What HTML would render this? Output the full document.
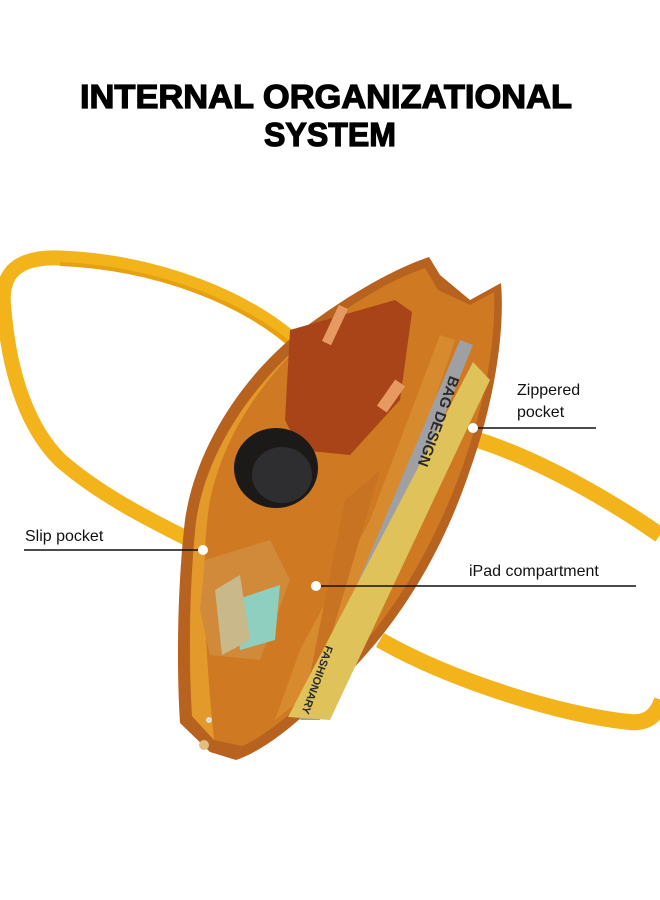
<!DOCTYPE html>
<html><head><style>
html,body{margin:0;padding:0;background:#fff;}
svg{display:block;}
text{font-family:"Liberation Sans",sans-serif;}
</style></head><body>
<svg width="660" height="900" viewBox="0 0 660 900" xmlns="http://www.w3.org/2000/svg">
<rect width="660" height="900" fill="#fff"/>
<text x="326" y="108" text-anchor="middle" font-size="33" font-weight="bold" fill="#000" stroke="#000" stroke-width="1.2" textLength="492" lengthAdjust="spacingAndGlyphs">INTERNAL ORGANIZATIONAL</text>
<text x="330" y="146" text-anchor="middle" font-size="33" font-weight="bold" fill="#000" stroke="#000" stroke-width="1.2" textLength="132" lengthAdjust="spacingAndGlyphs">SYSTEM</text>

<!-- left strap -->
<path d="M298,345 C250,300 160,262 60,258 C10,256 0,280 4,310 C10,380 30,430 60,460 C100,495 150,520 190,540" fill="none" stroke="#f2b41a" stroke-width="15"/>
<path d="M298,345 C250,300 160,262 60,258" fill="none" stroke="#e6a012" stroke-width="4" transform="translate(0,6)"/>
<!-- right strap -->
<path d="M478,440 C540,460 610,500 660,535" fill="none" stroke="#f2b41a" stroke-width="16"/>
<path d="M380,640 C450,680 560,715 630,722 C650,724 658,712 662,700" fill="none" stroke="#f2b41a" stroke-width="16"/>

<!-- bag outer -->
<path d="M429,257 L440,275 L470,300 L501,283 C505,330 495,400 470,470 C440,560 390,640 320,700 C290,730 260,752 236,760 L210,752 L180,723 C176,660 178,580 185,520 C195,450 240,380 295,335 C340,300 390,270 429,257 Z" fill="#b8621f"/>
<!-- interior lining -->
<path d="M425,268 L438,290 L470,305 L494,292 C496,340 486,400 462,468 C432,552 385,632 318,690 C288,716 262,738 242,746 L214,740 L192,716 C188,650 190,580 196,522 C206,452 250,388 300,345 C340,310 385,282 425,268 Z" fill="#cf7a22"/>
<path d="M300,345 C250,390 206,452 196,522 C190,580 188,650 192,716 L214,740 C205,650 200,560 210,500 C225,430 265,380 300,345 Z" fill="#e49a2a"/>
<!-- pouch -->
<path d="M290,330 L395,300 L412,312 L400,400 L350,455 L300,450 L285,420 Z" fill="#a84418"/>
<rect x="385" y="380" width="12" height="32" fill="#e69a62" transform="rotate(35 391 396)"/>
<rect x="330" y="305" width="10" height="40" fill="#e69a62" transform="rotate(25 335 325)"/>
<!-- black circle -->
<ellipse cx="276" cy="468" rx="42" ry="40" fill="#1c1a18"/>
<ellipse cx="282" cy="475" rx="30" ry="28" fill="#2e2e30"/>
<!-- dividers -->
<path d="M440,335 L455,340 L380,560 L300,700 L275,720 L300,650 L370,520 Z" fill="#d88a2e"/>
<path d="M345,500 L380,470 L330,640 L305,700 Z" fill="#c87322"/>
<!-- tablet -->
<path d="M460,340 L473,345 L320,720 L300,720 Z" fill="#9ea0a4"/>
<!-- book -->
<path d="M473,362 L490,380 L330,720 L288,717 Z" fill="#e0c25a"/>
<text x="0" y="0" font-size="15" font-weight="bold" fill="#2a2a2a" transform="translate(450,375) rotate(110)">BAG DESIGN</text>
<text x="0" y="0" font-size="11" font-weight="bold" fill="#2a2a2a" transform="translate(326,645) rotate(110)">FASHIONARY</text>
<!-- slip pocket items -->
<path d="M205,560 L270,540 L290,580 L260,660 L210,655 L200,610 Z" fill="#d08a3a"/>
<path d="M235,600 L280,585 L275,640 L240,650 Z" fill="#8fcfbf"/>
<path d="M215,590 L240,575 L250,640 L222,655 Z" fill="#c9b88a"/>
<!-- bottom zipper details -->
<circle cx="209" cy="720" r="3" fill="#ddd"/>
<circle cx="204" cy="745" r="5" fill="#e0c080"/>

<!-- callouts -->
<text x="517" y="395" font-size="16" fill="#111">Zippered</text>
<text x="517" y="417" font-size="16" fill="#111">pocket</text>
<line x1="476" y1="428" x2="596" y2="428" stroke="#111" stroke-width="1.5"/>
<circle cx="473" cy="428" r="5" fill="#fff"/>
<text x="25" y="541" font-size="16" fill="#111">Slip pocket</text>
<line x1="24" y1="550" x2="200" y2="550" stroke="#111" stroke-width="1.5"/>
<circle cx="203" cy="550" r="5" fill="#fff"/>
<text x="469" y="576" font-size="16" fill="#111">iPad compartment</text>
<line x1="318" y1="586" x2="636" y2="586" stroke="#111" stroke-width="1.5"/>
<circle cx="316" cy="586" r="5" fill="#fff"/>
</svg>
</body></html>
